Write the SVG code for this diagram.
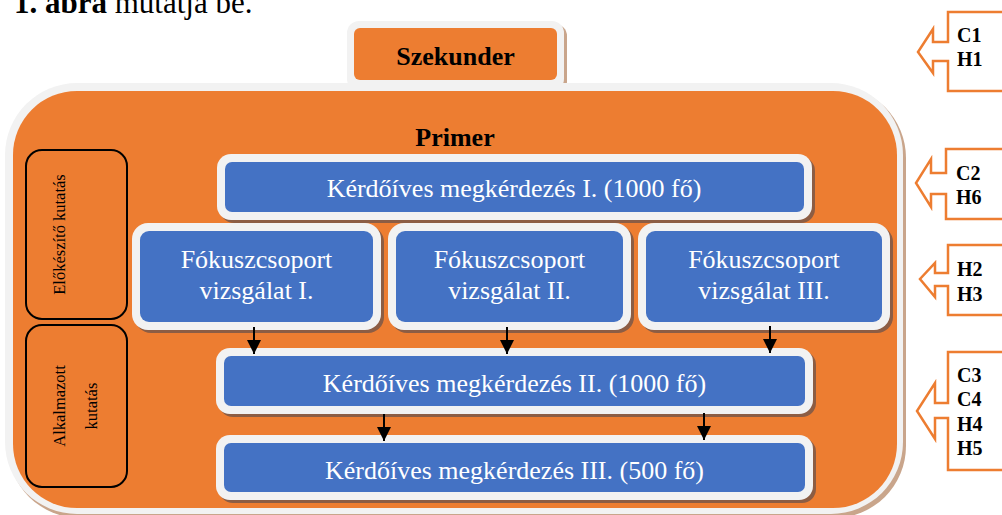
<svg xmlns="http://www.w3.org/2000/svg" width="1002" height="515" viewBox="0 0 1002 515">
<defs>
<style>
text{font-family:"Liberation Serif","Times New Roman",serif;}
.shadow{fill:#8c5d44;}
.tan{fill:#c9a58b;}
.frame{fill:#f2f2f2;}
.blue{fill:#4472c4;}
.orange{fill:#ed7d31;}
.wt{fill:#ffffff;font-size:26px;text-anchor:middle;}
.bold{font-weight:bold;fill:#000;}
.side{fill:none;stroke:#000;stroke-width:2;}
.sidet{font-size:16.5px;fill:#000;text-anchor:middle;}
.call{fill:#ffffff;stroke:#ed7d31;stroke-width:2.5;}
.ct{font-size:20px;font-weight:bold;fill:#000;}
.arr{stroke:#000;stroke-width:2;fill:none;}
</style>
<marker id="ah" viewBox="0 0 10 10" refX="10" refY="5" markerWidth="7.5" markerHeight="7" orient="auto" markerUnits="strokeWidth">
<path d="M0,0 L10,5 L0,10 Z" fill="#000"/>
</marker>
</defs>
<rect width="1002" height="515" fill="#ffffff"/>

<text x="14" y="13" font-size="31" fill="#000"><tspan font-weight="bold">1. ábra</tspan> mutatja be.</text>

<g id="szekunder">
<rect class="tan" x="350" y="24" width="217" height="70" rx="12"/>
<rect class="frame" x="347" y="21" width="217" height="70" rx="12"/>
<rect class="orange" x="354" y="28" width="203" height="52" rx="6"/>
<text class="bold" x="455.5" y="65" font-size="26" text-anchor="middle">Szekunder</text>
</g>

<g id="primer">
<rect class="tan" x="8" y="86" width="898" height="432" rx="72"/>
<rect class="frame" x="5" y="83" width="898" height="431" rx="72"/>
<rect class="orange" x="13" y="91" width="884" height="417" rx="64"/>
<text class="bold" x="455" y="146" font-size="26" text-anchor="middle">Primer</text>
</g>

<g id="elokeszito">
<rect class="side" x="26" y="150" width="101" height="169" rx="16"/>
<text class="sidet" transform="translate(65,234.5) rotate(-90)">Előkészítő kutatás</text>
</g>

<g id="alkalmazott">
<rect class="side" x="26" y="325" width="101" height="162" rx="16"/>
<text class="sidet" transform="translate(65,406) rotate(-90)">Alkalmazott</text>
<text class="sidet" transform="translate(97,406) rotate(-90)">kutatás</text>
</g>

<g id="kerdo1">
<rect class="shadow" x="220" y="157" width="595" height="66" rx="14"/>
<rect class="frame" x="217" y="154" width="595" height="66" rx="14"/>
<rect class="blue" x="225" y="162" width="579" height="50" rx="7"/>
<text class="wt" x="514" y="197">Kérdőíves megkérdezés I. (1000 fő)</text>
</g>

<g id="fokusz1">
<rect class="shadow" x="135" y="226" width="249" height="107" rx="16"/>
<rect class="frame" x="132" y="223" width="249" height="107" rx="16"/>
<rect class="blue" x="140" y="231" width="233" height="91" rx="9"/>
<text class="wt" x="256.5" y="268">Fókuszcsoport</text>
<text class="wt" x="256.5" y="299">vizsgálat I.</text>
</g>

<g id="fokusz2">
<rect class="shadow" x="391" y="226" width="243" height="107" rx="16"/>
<rect class="frame" x="388" y="223" width="243" height="107" rx="16"/>
<rect class="blue" x="396" y="231" width="227" height="91" rx="9"/>
<text class="wt" x="509.5" y="268">Fókuszcsoport</text>
<text class="wt" x="509.5" y="299">vizsgálat II.</text>
</g>

<g id="fokusz3">
<rect class="shadow" x="641" y="226" width="252" height="107" rx="16"/>
<rect class="frame" x="638" y="223" width="252" height="107" rx="16"/>
<rect class="blue" x="646" y="231" width="236" height="91" rx="9"/>
<text class="wt" x="764" y="268">Fókuszcsoport</text>
<text class="wt" x="764" y="299">vizsgálat III.</text>
</g>

<g id="kerdo2">
<rect class="shadow" x="219" y="351" width="597" height="66" rx="14"/>
<rect class="frame" x="216" y="348" width="597" height="66" rx="14"/>
<rect class="blue" x="224" y="356" width="581" height="50" rx="7"/>
<text class="wt" x="514.5" y="392">Kérdőíves megkérdezés II. (1000 fő)</text>
</g>

<g id="kerdo3">
<rect class="shadow" x="219" y="438" width="597" height="65" rx="14"/>
<rect class="frame" x="216" y="435" width="597" height="65" rx="14"/>
<rect class="blue" x="224" y="443" width="581" height="49" rx="7"/>
<text class="wt" x="514.5" y="479">Kérdőíves megkérdezés III. (500 fő)</text>
</g>

<g id="connectors">
<line class="arr" x1="254" y1="327" x2="254" y2="354" marker-end="url(#ah)"/>
<line class="arr" x1="507" y1="327" x2="507" y2="354" marker-end="url(#ah)"/>
<line class="arr" x1="770" y1="326" x2="770" y2="353" marker-end="url(#ah)"/>
<line class="arr" x1="384" y1="414" x2="384" y2="441" marker-end="url(#ah)"/>
<line class="arr" x1="704" y1="413" x2="704" y2="440" marker-end="url(#ah)"/>
</g>

<g id="callout-c1h1">
<path class="call" d="M1010,12 H948 V42 H933 V29 L918,52 L933,73 V61 H948 V91 H1010"/>
<text class="ct" x="957" y="42">C1</text>
<text class="ct" x="957" y="66">H1</text>
</g>

<g id="callout-c2h6">
<path class="call" d="M1010,149 H946 V173 H931 V159 L916,183 L931,207 V194 H946 V219 H1010"/>
<text class="ct" x="956" y="180">C2</text>
<text class="ct" x="956" y="204">H6</text>
</g>

<g id="callout-h2h3">
<path class="call" d="M1010,245 H948 V273 H935 V263 L920,279 L935,297 V286 H948 V315 H1010"/>
<text class="ct" x="957" y="276">H2</text>
<text class="ct" x="957" y="301">H3</text>
</g>

<g id="callout-c3c4h4h5">
<path class="call" d="M1010,352 H948 V403 H935 V383 L917,411 L935,439 V418 H948 V470 H1010"/>
<text class="ct" x="957" y="382">C3</text>
<text class="ct" x="957" y="406">C4</text>
<text class="ct" x="957" y="431">H4</text>
<text class="ct" x="957" y="455">H5</text>
</g>
</svg>
